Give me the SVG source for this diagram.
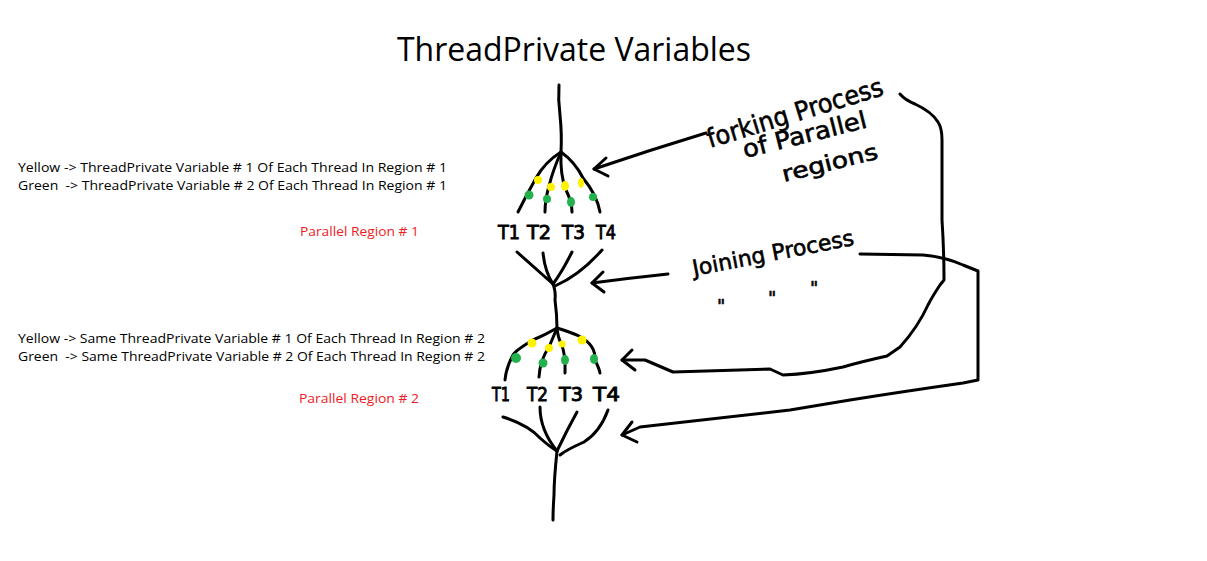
<svg xmlns="http://www.w3.org/2000/svg" width="1207" height="561" viewBox="0 0 1207 561">
<style>
.ink{fill:none;stroke:#000;stroke-width:3;stroke-linecap:round;stroke-linejoin:round}
.ui{font-family:"Open Sans","Liberation Sans",sans-serif;fill:#000;white-space:pre}
.red{font-family:"Open Sans","Liberation Sans",sans-serif;fill:#ed1c24;font-size:13px}
.hand{font-family:"DejaVu Sans","Liberation Sans",sans-serif;fill:#000;stroke:#000;stroke-width:0.6}
.tl{font-family:"DejaVu Sans","Liberation Sans",sans-serif;fill:#000;stroke:#000;stroke-width:0.9;font-size:19px}
.y{fill:#fff200}
.g{fill:#22b14c}
</style>
<rect width="1207" height="561" fill="#fff"/>
<text class="ui" x="397" y="61" font-size="32" textLength="354" lengthAdjust="spacingAndGlyphs">ThreadPrivate Variables</text>

<g id="legend1">
<text class="ui" x="18" y="172" font-size="13.5" textLength="429" lengthAdjust="spacingAndGlyphs" xml:space="preserve">Yellow -&gt; ThreadPrivate Variable # 1 Of Each Thread In Region # 1</text>
<text class="ui" x="18" y="190" font-size="13.5" textLength="429" lengthAdjust="spacingAndGlyphs" xml:space="preserve">Green  -&gt; ThreadPrivate Variable # 2 Of Each Thread In Region # 1</text>
<text class="red" x="300" y="236" textLength="119" lengthAdjust="spacingAndGlyphs">Parallel Region # 1</text>
</g>
<g id="legend2">
<text class="ui" x="18" y="343" font-size="13.5" textLength="467" lengthAdjust="spacingAndGlyphs" xml:space="preserve">Yellow -&gt; Same ThreadPrivate Variable # 1 Of Each Thread In Region # 2</text>
<text class="ui" x="18" y="361" font-size="13.5" textLength="467" lengthAdjust="spacingAndGlyphs" xml:space="preserve">Green  -&gt; Same ThreadPrivate Variable # 2 Of Each Thread In Region # 2</text>
<text class="red" x="299" y="403" textLength="120" lengthAdjust="spacingAndGlyphs">Parallel Region # 2</text>
</g>

<g id="region1">
<path class="ink" d="M559,85 Q558,100 560,115 Q562,135 561,152"/>
<path class="ink" d="M561,152 Q545,162 536,178 Q526,196 518,212"/>
<path class="ink" d="M561,152 Q553,170 549,186 Q545,200 545,212"/>
<path class="ink" d="M561,152 Q560,175 566,190 Q572,202 572,212"/>
<path class="ink" d="M561,152 Q575,162 583,178 Q597,195 600,212"/>
<circle class="y" cx="538" cy="180" r="4"/>
<circle class="y" cx="551" cy="187" r="4"/>
<ellipse class="y" cx="565" cy="186" rx="4" ry="5"/>
<ellipse class="y" cx="581" cy="183" rx="3" ry="5"/>
<circle class="g" cx="529" cy="195" r="4.5"/>
<circle class="g" cx="547" cy="199" r="4"/>
<ellipse class="g" cx="571" cy="202" rx="4" ry="5"/>
<circle class="g" cx="593" cy="197" r="4"/>
<text class="tl" x="498" y="239" textLength="22" lengthAdjust="spacingAndGlyphs">T1</text>
<text class="tl" x="527" y="239" textLength="24" lengthAdjust="spacingAndGlyphs">T2</text>
<text class="tl" x="562" y="239" textLength="23" lengthAdjust="spacingAndGlyphs">T3</text>
<text class="tl" x="596" y="239" textLength="20" lengthAdjust="spacingAndGlyphs">T4</text>
<path class="ink" d="M517,252 Q535,268 553,284"/>
<path class="ink" d="M543,253 Q545,272 553,284"/>
<path class="ink" d="M572,252 Q562,272 553,284"/>
<path class="ink" d="M602,250 Q580,275 555,286"/>
<path class="ink" d="M553,284 Q556,292 555,300 Q557,315 557,328"/>
</g>

<g id="region2">
<path class="ink" d="M557,328 Q545,335 533,340 Q516,350 513,355 Q506,368 505,380"/>
<path class="ink" d="M557,328 Q552,340 549,347 Q540,360 539,377"/>
<path class="ink" d="M557,328 Q558,338 561,343 Q566,355 565,373"/>
<path class="ink" d="M557,328 Q570,332 579,336 Q596,345 595,360 Q599,368 600,373"/>
<circle class="y" cx="532" cy="343" r="4.5"/>
<circle class="y" cx="549" cy="348" r="4"/>
<circle class="y" cx="562" cy="344" r="3.5"/>
<circle class="y" cx="582" cy="340" r="4.5"/>
<circle class="g" cx="516" cy="358" r="5"/>
<circle class="g" cx="543" cy="363" r="4.5"/>
<ellipse class="g" cx="565" cy="360" rx="4" ry="5"/>
<ellipse class="g" cx="594" cy="359" rx="4" ry="5"/>
<text class="tl" x="492" y="401" textLength="18" lengthAdjust="spacingAndGlyphs">T1</text>
<text class="tl" x="527" y="401" textLength="21" lengthAdjust="spacingAndGlyphs">T2</text>
<text class="tl" x="559" y="401" textLength="24" lengthAdjust="spacingAndGlyphs">T3</text>
<text class="tl" x="593" y="401" textLength="27" lengthAdjust="spacingAndGlyphs">T4</text>
<path class="ink" d="M503,417 Q528,425 540,438 Q550,447 557,451"/>
<path class="ink" d="M540,407 Q540,430 557,451"/>
<path class="ink" d="M577,412 Q567,430 557,451"/>
<path class="ink" d="M608,410 Q600,432 584,442 Q566,450 560,455"/>
<path class="ink" d="M557,451 Q554,480 554,495 Q553,510 553,520"/>
</g>

<g id="labels">
<text class="hand" font-size="26" transform="translate(710,148) rotate(-17)" textLength="183" lengthAdjust="spacingAndGlyphs">forking Process</text>
<text class="hand" font-size="24" transform="translate(745,158) rotate(-14)" textLength="127" lengthAdjust="spacingAndGlyphs">of Parallel</text>
<text class="hand" font-size="22" transform="translate(784,182) rotate(-14)" textLength="98" lengthAdjust="spacingAndGlyphs">regions</text>
<text class="hand" font-size="22" transform="translate(694,276) rotate(-11)" textLength="164" lengthAdjust="spacingAndGlyphs">Joining Process</text>
<text class="hand" font-size="18" x="717" y="312">"</text>
<text class="hand" font-size="18" x="768" y="304">"</text>
<text class="hand" font-size="18" x="810" y="294">"</text>
</g>

<g id="connectors">
<path class="ink" d="M706,133 Q650,150 594,169"/>
<path class="ink" d="M606,158 L594,169 L608,176"/>
<path class="ink" d="M668,274 Q630,278 592,283"/>
<path class="ink" d="M603,272 L592,283 L604,292"/>
<path class="ink" d="M860,254 L923,255 Q945,257 963,265 L978,271 L978,380 L963,383 Q900,392 850,400 L790,410 Q700,420 640,427 L622,435"/>
<path class="ink" d="M632,422 L622,435 L637,442"/>
<path class="ink" d="M900,94 Q905,100 915,104 Q932,112 938,122 Q942,128 942,140 L942,220 Q944,250 944,280 L940,285 Q932,297 928,305 Q918,327 900,347 L887,356 Q860,362 843,367 Q810,374 783,375 L770,369 L673,372 L645,360 L622,360"/>
<path class="ink" d="M632,350 L622,360 L635,370"/>
</g>
</svg>
